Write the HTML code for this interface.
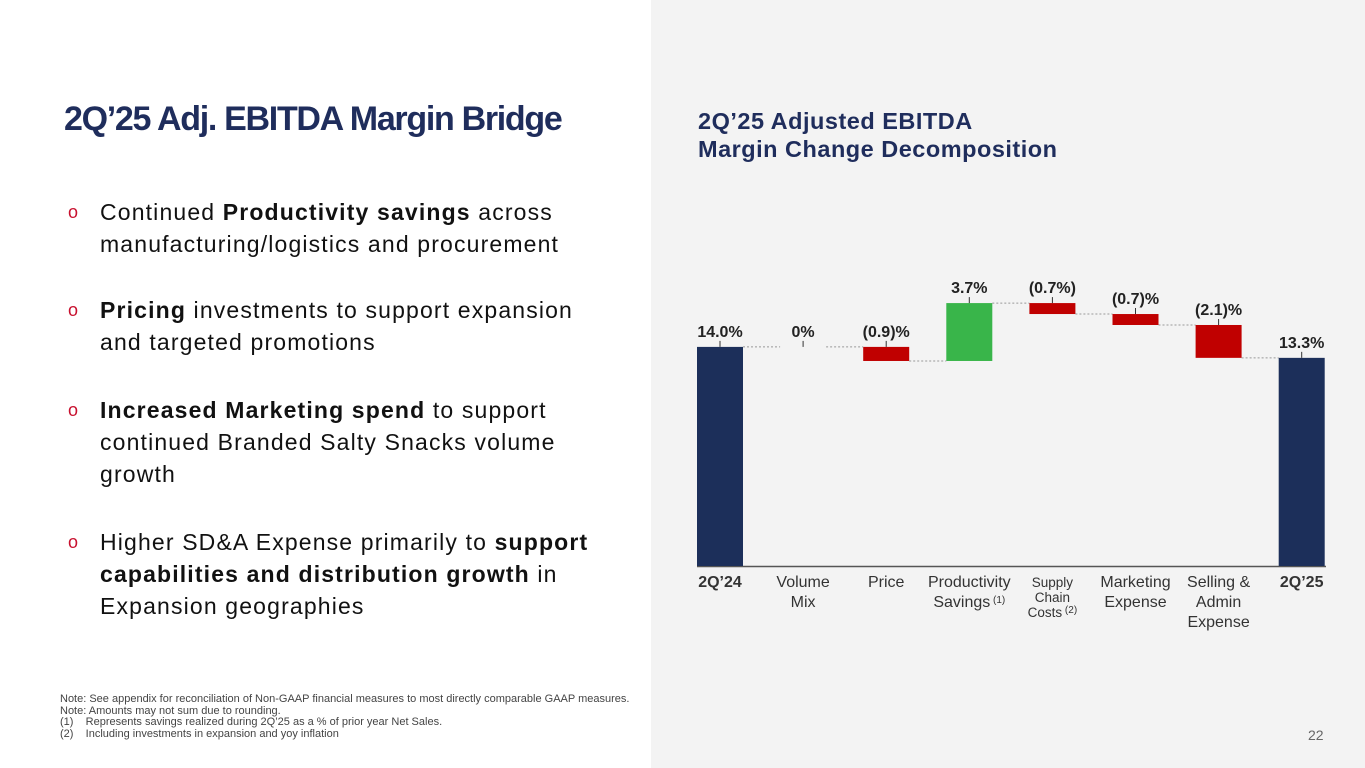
<!DOCTYPE html>
<html><head><meta charset="utf-8">
<style>
*{margin:0;padding:0;box-sizing:border-box}
body{width:1365px;height:768px;overflow:hidden;background:#fff;font-family:"Liberation Sans",sans-serif;position:relative}
#right{position:absolute;left:651px;top:0;width:714px;height:768px;background:#f3f3f3}
#title{position:absolute;left:64px;top:100px;font-size:34px;font-weight:bold;color:#1f2d5c;letter-spacing:-1.3px;white-space:nowrap}
.bul{position:absolute;left:100px;font-size:23px;color:#111;line-height:32px;white-space:nowrap;letter-spacing:1.15px}
.bul .o{position:absolute;left:-32px;top:0;color:#c8102e;font-size:18px}
#notes{position:absolute;left:60px;top:694px;font-size:11px;color:#444;line-height:11.5px;letter-spacing:0px}
#pg{position:absolute;left:1308px;top:727px;font-size:14px;color:#666}
#ctitle{position:absolute;left:698px;top:107px;font-size:23.5px;font-weight:bold;color:#1f2d5c;line-height:28px;letter-spacing:0.5px}
svg{position:absolute;left:0;top:0}
</style></head><body>
<div id="right"></div>
<div id="title">2Q’25 Adj. EBITDA Margin Bridge</div>
<div class="bul" style="top:196px"><span class="o">o</span>Continued <b>Productivity savings</b> across<br>manufacturing/logistics and procurement</div>
<div class="bul" style="top:294px"><span class="o">o</span><b>Pricing</b> investments to support expansion<br>and targeted promotions</div>
<div class="bul" style="top:394px"><span class="o">o</span><b>Increased Marketing spend</b> to support<br>continued Branded Salty Snacks volume<br>growth</div>
<div class="bul" style="top:526px"><span class="o">o</span>Higher SD&amp;A Expense primarily to <b>support</b><br><b>capabilities and distribution growth</b> in<br>Expansion geographies</div>
<div id="notes">Note: See appendix for reconciliation of Non-GAAP financial measures to most directly comparable GAAP measures.<br>Note: Amounts may not sum due to rounding.<br>(1)&nbsp;&nbsp;&nbsp;&nbsp;Represents savings realized during 2Q’25 as a % of prior year Net Sales.<br>(2)&nbsp;&nbsp;&nbsp;&nbsp;Including investments in expansion and yoy inflation</div>
<div id="pg">22</div>
<div id="ctitle">2Q’25 Adjusted EBITDA<br>Margin Change Decomposition</div>
<svg id="chart" width="1365" height="768"></svg>
<script>
const categories=[["2Q’24"],["Volume","Mix"],["Price"],["Productivity","Savings"],["Supply","Chain","Costs"],["Marketing","Expense"],["Selling &","Admin","Expense"],["2Q’25"]];
const values=[14.0,0,-0.9,3.7,-0.7,-0.7,-2.1,13.3];
const kinds=["total","delta","delta","delta","delta","delta","delta","total"];
const valueLabels=["14.0%","0%","(0.9)%","3.7%","(0.7%)","(0.7)%","(2.1)%","13.3%"];
const notes=["","","","(1)","(2)","","",""];

const NS="http://www.w3.org/2000/svg";
const svg=document.getElementById('chart');
const baseY=566,pxPer=15.65,x0=720,step=83.1,bw=46;
const y=v=>baseY-v*pxPer;
const xc=i=>x0+i*step;
function mk(t,a){const e=document.createElementNS(NS,t);for(const k in a)e.setAttribute(k,a[k]);svg.appendChild(e);return e;}
let run=0,prevEnd=null;
const ax=mk('line',{x1:697,x2:1326,y1:baseY+0.5,y2:baseY+0.5,stroke:'#555','stroke-width':1.5});


values.forEach((v,i)=>{
  let a,b,col;
  if(kinds[i]==='total'){a=0;b=v;run=v;col='#1c2f5a';}
  else{a=run;b=run+v;run=b;col=v>=0?'#39b54a':'#c00000';}
  const top=Math.min(y(a),y(b)),h=Math.abs(y(a)-y(b));
  const cx=xc(i);
  if(prevEnd!==null){
    const l=mk('line',{x1:xc(i-1)+bw/2,x2:cx-bw/2,y1:prevEnd,y2:prevEnd,stroke:'#999','stroke-dasharray':'2,2','stroke-width':1});
    
    
  }
  const endVal=kinds[i]==='total'?v:b;
  prevEnd=y(endVal);
  if(h>0.5){
    const r=mk('rect',{x:cx-bw/2,y:top,width:bw,height:h,fill:col});
    
    
  }
  const tk=mk('line',{x1:cx,x2:cx,y1:top-6,y2:top,stroke:'#333','stroke-width':1});
  
  
  const t=mk('text',{x:cx,y:top-10,'text-anchor':'middle','font-size':16,'font-weight':'bold',fill:'#222'});
  t.textContent=valueLabels[i];
  
  
  const small=categories[i].length===3&&i===4;
  const fs=small?13.5:16,lh=small?15:20;
  categories[i].forEach((ln,j)=>{
    const ct=mk('text',{x:cx,y:587+j*lh,'text-anchor':'middle','font-size':fs,fill:'#333','font-weight':kinds[i]==='total'?'bold':'normal'});
    ct.textContent=ln;
    
    
    if(j===categories[i].length-1&&notes[i]){
      const sp=document.createElementNS(NS,'tspan');sp.setAttribute('font-size',10);sp.setAttribute('dy',-4);sp.textContent=' '+notes[i];ct.appendChild(sp);
    }
  });
});
</script>
</body></html>
